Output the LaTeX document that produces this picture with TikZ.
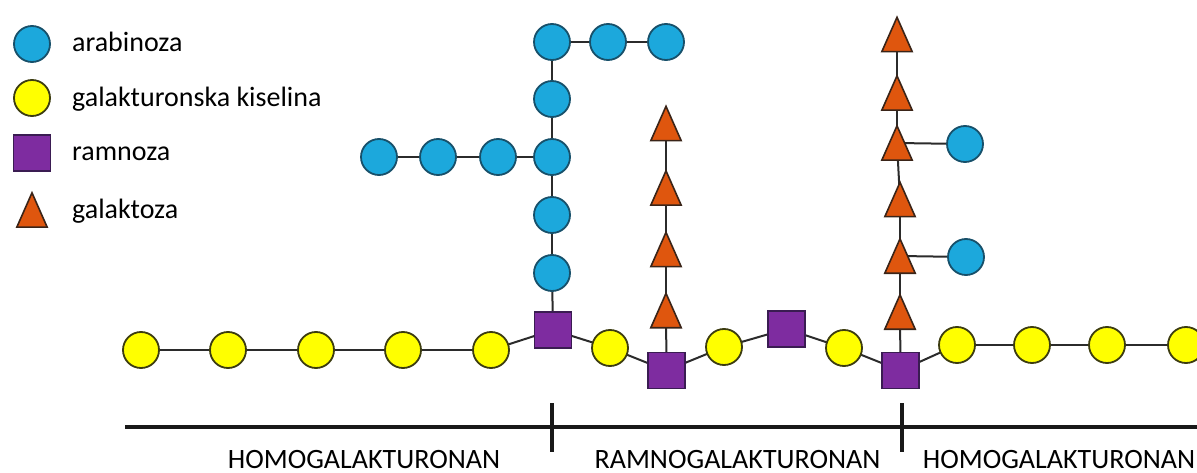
\documentclass[tikz,border=0pt]{standalone}
\usepackage{fontspec}
\setmainfont{Carlito}
\pgfdeclarelayer{bg}
\pgfsetlayers{bg,main}

\definecolor{arabfill}{HTML}{1CA8DC}
\definecolor{arabline}{HTML}{17506A}
\definecolor{gafill}{HTML}{FFFF00}
\definecolor{galine}{HTML}{3C3C10}
\definecolor{ramfill}{HTML}{7E2CA0}
\definecolor{ramline}{HTML}{3A1C52}
\definecolor{galfill}{HTML}{DF560E}
\definecolor{galline}{HTML}{3A2418}
\definecolor{linkcol}{HTML}{2B2B2B}

\tikzset{
  arab/.style={circle, draw=arabline, fill=arabfill, line width=1.8pt,
    minimum size=36pt, inner sep=0pt},
  gacid/.style={circle, draw=galine, fill=gafill, line width=1.8pt,
    minimum size=36pt, inner sep=0pt},
  ramn/.style={rectangle, draw=ramline, fill=ramfill, line width=1.8pt,
    minimum width=37pt, minimum height=36pt, inner sep=0pt},
  % galactose: an invisible box with an upward triangle drawn inside it
  galt/.style={rectangle, draw=none, fill=none, inner sep=0pt,
    minimum width=30pt, minimum height=34pt,
    append after command={\pgfextra{\let\trinode\tikzlastnode
      \draw[draw=galline, fill=galfill, line width=1.6pt]
        (\trinode.north) -- (\trinode.south east) -- (\trinode.south west) -- cycle;}}},
  link/.style={draw=linkcol, line width=2pt},
  axisline/.style={draw=black!90, line width=4pt},
  tickline/.style={draw=black!90, line width=3.5pt},
  legendtext/.style={anchor=base west, inner sep=0pt,
    font=\fontsize{28}{34}\selectfont},
  regiontext/.style={anchor=base, inner sep=0pt,
    font=\fontsize{28}{34}\selectfont},
}

\begin{document}
\begin{tikzpicture}[x=1pt, y=-1pt]
\clip (0,0) rectangle (1197,473);

% legend
\node[arab]  (lgA) at (32,44)  {};
\node[gacid] (lgG) at (32,98)  {};
\node[ramn]  (lgR) at (32,153) {};
\node[galt]  (lgT) at (32,210) {};
\node[legendtext] (txA) at (72,52)  {arabinoza};
\node[legendtext] (txG) at (72,107) {galakturonska kiselina};
\node[legendtext] (txR) at (72,161) {ramnoza};
\node[legendtext] (txT) at (72,219) {galaktoza};

% arabinan side chain on the first rhamnose
\node[arab] (B1)  at (552,42)  {};
\node[arab] (B1b) at (608,42)  {};
\node[arab] (B1c) at (666,42)  {};
\node[arab] (B2)  at (552,99)  {};
\node[arab] (B3)  at (552,157) {};
\node[arab] (B4)  at (552,215) {};
\node[arab] (B5)  at (552,273) {};
\node[arab] (L3)  at (498,157) {};
\node[arab] (L2)  at (438,157) {};
\node[arab] (L1)  at (379,157) {};

% galactan side chain on the second rhamnose
\node[galt] (M1) at (666,123.5) {};
\node[galt] (M2) at (666,188)   {};
\node[galt] (M3) at (666,249.5) {};
\node[galt] (M4) at (666,310.5) {};

% arabinogalactan side chain on the last rhamnose
\node[galt] (R1) at (897,34.5)  {};
\node[galt] (R2) at (897,93)    {};
\node[galt] (R3) at (897,143)   {};
\node[galt] (R4) at (900,199.5) {};
\node[galt] (R5) at (900,256)   {};
\node[galt] (R6) at (900,312)   {};
\node[arab] (C1) at (965,144)   {};
\node[arab] (C2) at (966,257)   {};

% backbone
\node[gacid] (Y1)  at (141,350) {};
\node[gacid] (Y2)  at (228,350) {};
\node[gacid] (Y3)  at (316,350) {};
\node[gacid] (Y4)  at (403,350) {};
\node[gacid] (Y5)  at (491,350) {};
\node[ramn]  (S1)  at (553,330) {};
\node[gacid] (Y6)  at (610,348) {};
\node[ramn]  (S2)  at (666.5,370.5) {};
\node[gacid] (Y7)  at (724,347) {};
\node[ramn]  (S3)  at (786.5,329) {};
\node[gacid] (Y8)  at (844,348) {};
\node[ramn]  (S4)  at (900.5,370.5) {};
\node[gacid] (Y9)  at (957,345) {};
\node[gacid] (Y10) at (1032,345) {};
\node[gacid] (Y11) at (1107,345) {};
\node[gacid] (Y12) at (1186,345) {};

% glycosidic links, behind the residues
\begin{pgfonlayer}{bg}
  \foreach \a/\b in {Y1/Y2, Y2/Y3, Y3/Y4, Y4/Y5, Y5/S1, S1/Y6, Y6/S2,
      S2/Y7, Y7/S3, S3/Y8, Y8/S4, S4/Y9, Y9/Y10, Y10/Y11, Y11/Y12,
      S1/B5, B5/B4, B4/B3, B3/B2, B2/B1, B1/B1b, B1b/B1c,
      B3/L3, L3/L2, L2/L1,
      S2/M4, M4/M3, M3/M2, M2/M1,
      S4/R6, R6/R5, R5/R4, R4/R3, R3/R2, R2/R1, R3/C1, R5/C2}
    \draw[link] (\a.center) -- (\b.center);
\end{pgfonlayer}

% region axis
\coordinate (axL) at (125,427);
\coordinate (axR) at (1200,427);
\coordinate (t1a) at (552,403);
\coordinate (t1b) at (552,452);
\coordinate (t2a) at (902,403);
\coordinate (t2b) at (902,452);
\draw[axisline] (axL) -- (axR);
\draw[tickline] (t1a) -- (t1b);
\draw[tickline] (t2a) -- (t2b);

\node[regiontext] (hg1) at (364,468)   {HOMOGALAKTURONAN};
\node[regiontext] (rg)  at (737.5,468) {RAMNOGALAKTURONAN};
\node[regiontext] (hg2) at (1059,468)  {HOMOGALAKTURONAN};
\end{tikzpicture}
\end{document}
